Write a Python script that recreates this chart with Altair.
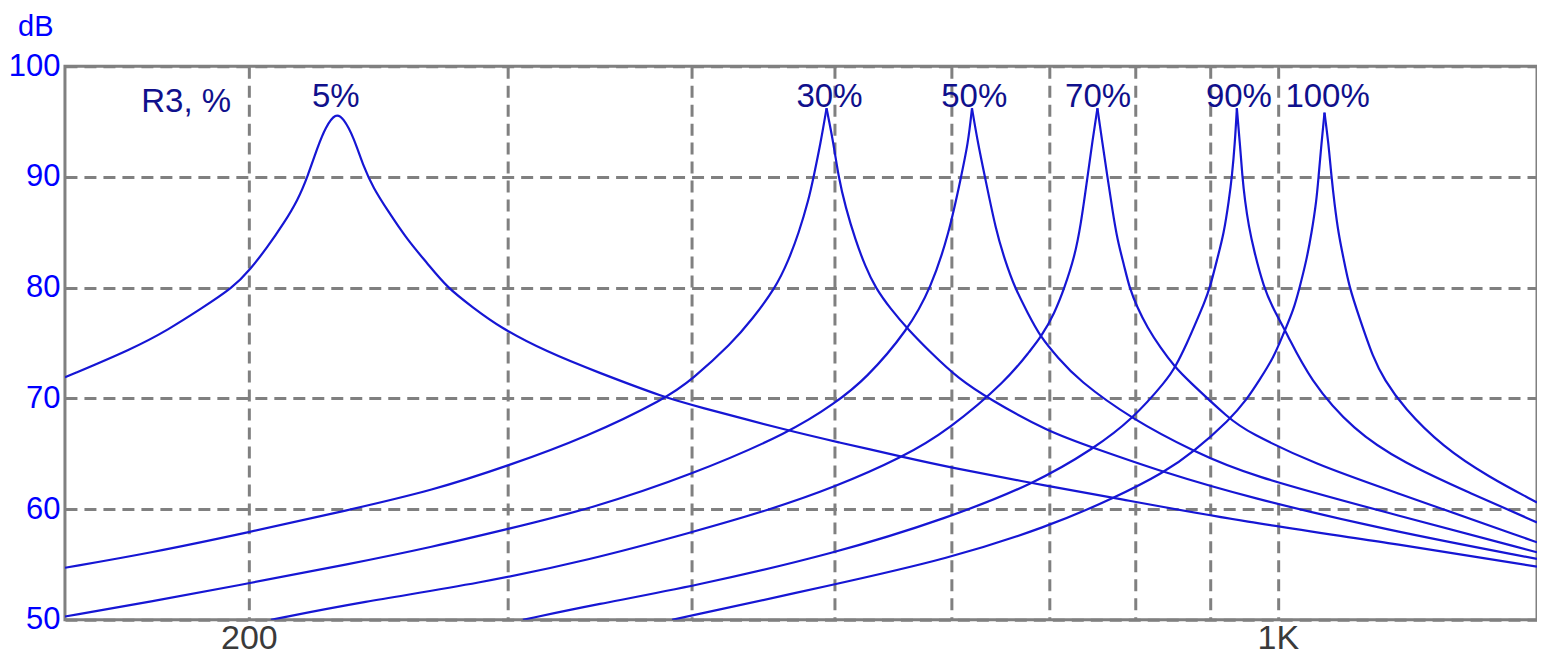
import altair as alt
import pandas as pd

# ---- data (frequency in Hz, level in dB) ----
F5 = [150, 166.9, 176.3, 185.6, 195.1, 200.3, 206.0, 211.2, 215.9, 219.2, 222.7, 225.5, 229.1,
      231.9, 235.6, 239.3, 243.0, 248.4, 256.3, 264.4, 272.7, 284.0, 296.2, 318.7, 344.4,
      384.7, 400, 467.5, 500.6, 556.6, 597.0, 683.7, 774.5, 952.8, 1184.9, 1500]
DB5 = [71.9, 74.5, 76.2, 78.1, 80.0, 81.6, 83.7, 85.8, 87.9, 90.0, 92.7, 94.5, 95.8,
       95.3, 93.6, 90.9, 89.0, 87.0, 84.3, 82.2, 80.0, 78.2, 76.4, 74.2, 72.4,
       70.0, 69.4, 67.0, 66.1, 64.7, 63.8, 62.3, 61.0, 58.8, 57.0, 54.8]

F30 = [150, 170.9, 200, 233.4, 266.9, 299.9, 339.1, 384.1, 400, 425.8, 439.2, 456.0, 465.3,
       472.6, 480.0, 483.8, 489.1, 493.7, 499.1, 503.0, 508.5, 516.5, 524.6, 532.8, 546.3,
       561.0, 581.4, 606.4, 637.4, 697.7, 750.7, 837.2, 952.8, 1184.9, 1500]
DB30 = [54.7, 56.0, 57.9, 59.9, 61.7, 63.9, 66.5, 70.0, 71.7, 75.0, 77.1, 80.0, 82.5,
        84.9, 87.9, 90.0, 93.05, 96.2, 93.05, 90.0, 87.3, 84.3, 81.9, 80.0, 78.0,
        76.2, 74.1, 71.8, 69.9, 67.0, 65.5, 63.3, 61.1, 58.1, 55.5]

F50 = [150, 170.9, 200, 233.4, 266.9, 299.9, 340.7, 400, 467.5, 500.6, 524.6, 561.0, 581.4,
       598.0, 609.3, 616.1, 619.8, 625.6, 632.5, 643.4, 652.5, 662.7, 676.3, 690.2, 708.7,
       731.1, 796.5, 877.3, 952.8, 1184.9, 1500]
DB50 = [50.3, 51.6, 53.3, 55.0, 56.6, 58.2, 60.0, 63.1, 67.0, 69.6, 71.7, 76.2, 80.0,
        84.9, 90.0, 93.05, 96.2, 93.05, 90.0, 85.2, 82.5, 80.0, 77.7, 75.5, 73.7,
        71.7, 68.1, 65.2, 63.1, 59.7, 56.1]

F70 = [207.0, 238.2, 287.1, 340.7, 400, 451.0, 500.6, 556.6, 597.0, 655.5, 679.5, 690.2,
       705.4, 716.4, 727.7, 734.5, 742.6, 748.4, 754.2, 760.1, 766.1, 772.1, 778.1, 786.7,
       792.8, 802.7, 815.4, 832.0, 851.7, 867.8, 927.9, 952.8, 1062.5, 1184.9, 1500]
DB70 = [50.0, 51.6, 53.3, 55.4, 57.9, 59.9, 62.0, 64.7, 67.1, 71.7, 74.4, 75.5,
        77.7, 80.0, 82.8, 85.5, 90.0, 93.3, 96.2, 93.05, 90.0, 87.0, 84.3, 81.9,
        80.0, 78.2, 76.4, 74.6, 72.8, 71.7, 68.1, 67.0, 64.0, 61.8, 57.0]

F90 = [307.0, 344.4, 400, 500.6, 597.0, 683.7, 750.7, 796.5, 841.2, 851.7, 867.8, 881.4,
       891.2, 899.4, 909.2, 919.2, 926.4, 930.8, 935.1, 938.0, 942.4, 946.1, 949.8, 955.7,
       963.2, 978.3, 993.7, 1014.0, 1050.9, 1125.5, 1216.7, 1348.2, 1500]
DB90 = [50.0, 51.4, 53.0, 56.0, 59.2, 62.3, 65.5, 68.1, 71.7, 72.8, 75.0, 77.1,
        78.6, 80.0, 82.5, 84.9, 87.9, 90.0, 93.05, 96.2, 93.05, 90.0, 87.9, 85.5,
        83.4, 80.0, 78.0, 75.9, 71.7, 67.1, 64.2, 61.5, 58.8]

F100 = [387.7, 500.6, 597.0, 697.7, 774.5, 837.2, 877.3, 927.9, 952.8, 972.2, 993.7, 1009.3,
        1025.1, 1034.7, 1046.0, 1054.2, 1062.5, 1065.8, 1070.8, 1075.8, 1082.5, 1087.6,
        1092.7, 1099.5, 1108.1, 1118.5, 1136.1, 1161.2, 1181.3, 1216.7, 1294.7, 1391.0, 1500]
DB100 = [50.0, 53.2, 55.5, 58.4, 61.0, 63.3, 65.2, 68.1, 69.9, 71.7, 73.7, 75.9,
         78.0, 80.0, 82.5, 84.9, 87.9, 90.0, 93.05, 95.8, 93.05, 90.0,
         87.6, 84.9, 82.7, 80.0, 77.3, 73.6, 71.7, 69.2, 65.6, 62.9, 60.6]

SERIES = ["5%", "30%", "50%", "70%", "90%", "100%"]
FREQS = [F5, F30, F50, F70, F90, F100]
LEVELS = [DB5, DB30, DB50, DB70, DB90, DB100]
SHARP = [False, True, True, True, True, True]   # sharp-tipped resonance peaks

# labels of the curves
LABEL_TEXT = ["R3, %", "5%", "30%", "50%", "70%", "90%", "100%"]
LABEL_F = [181.3, 229.1, 496.0, 622.0, 755.0, 941.0, 1081.0]
LABEL_DB = [95.9, 96.3, 96.3, 96.3, 96.3, 96.3, 96.3]

X_GRID = [200, 300, 400, 500, 600, 700, 800, 900, 1000]
Y_TICKS = [50, 60, 70, 80, 90, 100]

# each curve is drawn as a smooth rising and falling branch that meet at the peak
rows = []
for name, fs, ds, sharp in zip(SERIES, FREQS, LEVELS, SHARP):
    k = ds.index(max(ds))
    for i, (f, d) in enumerate(zip(fs, ds)):
        if sharp:
            if i <= k:
                rows.append({"branch": name + "-up", "f": f, "db": d, "order": i})
            if i >= k:
                rows.append({"branch": name + "-down", "f": f, "db": d, "order": i})
        else:
            rows.append({"branch": name, "f": f, "db": d, "order": i})
df = pd.DataFrame(rows)
labels = pd.DataFrame({"text": LABEL_TEXT, "f": LABEL_F, "db": LABEL_DB})

xscale = alt.Scale(type="log", domain=[150, 1500], nice=False)
yscale = alt.Scale(domain=[50, 100], nice=False)

FONT = "Liberation Sans"

lines = alt.Chart(df).mark_line(
    interpolate="basis", color="#1616d4", strokeWidth=2.2, clip=True
).encode(
    x=alt.X("f:Q", scale=xscale,
            axis=alt.Axis(values=X_GRID, title=None, ticks=False, domain=False,
                          labelExpr="datum.value == 200 ? '200' : (datum.value == 1000 ? '1K' : '')",
                          labelFontSize=34, labelColor="#3a3a3a", labelPadding=2,
                          labelFont=FONT, grid=True, labelFlush=False)),
    y=alt.Y("db:Q", scale=yscale,
            axis=alt.Axis(values=Y_TICKS, title="dB", titleAngle=0, titleAlign="right",
                          titleX=-12, titleY=-31, titleBaseline="alphabetic",
                          titleFontSize=29, titleColor="#0000ff", titleFontWeight="normal",
                          titleFont=FONT,
                          ticks=False, domain=False, labelFontSize=31, labelColor="#0000ff",
                          labelPadding=5, labelFont=FONT, grid=True,
                          labelFlush=False)),
    detail="branch:N",
    order="order:Q",
)

text = alt.Chart(labels).mark_text(
    fontSize=33, color="#10108c", font=FONT, baseline="alphabetic", align="center"
).encode(
    x=alt.X("f:Q", scale=xscale),
    y=alt.Y("db:Q", scale=yscale),
    text="text:N",
)

chart = alt.layer(lines, text).properties(
    width=1473, height=554,
    autosize=alt.AutoSizeParams(type="none"),
    padding={"left": 57, "top": 58, "right": 0, "bottom": 37},
    background="#ffffff",
).configure_view(
    stroke="#808080", strokeWidth=3
).configure_axis(
    gridColor="#808080", gridDash=[12, 7], gridWidth=3, gridOpacity=1
)

chart.save("out.html", embed_options={"renderer": "svg", "actions": False})
